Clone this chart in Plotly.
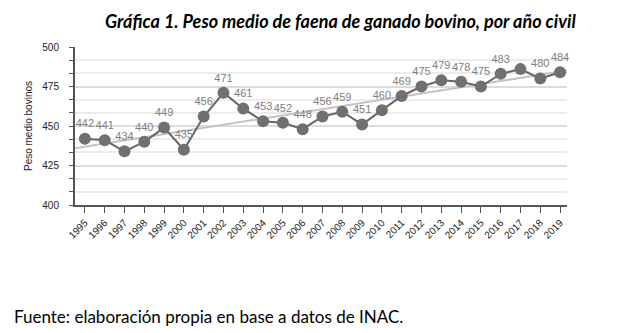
import numpy as np
import plotly.graph_objects as go

years = list(range(1995, 2020))
values = [442, 441, 434, 440, 449, 435, 456, 471, 461, 453, 452, 448, 456,
          459, 451, 460, 469, 475, 479, 478, 475, 483, 486, 480, 484]
labels = [str(v) for v in values]
labels[years.index(2017)] = ""
y_ticks = [400, 425, 450, 475, 500]

title = "Gráfica 1. Peso medio de faena de ganado bovino, por año civil"
source = "Fuente: elaboración propia en base a datos de INAC."

coef = np.polyfit(years, values, 1)
tx = np.array([1994.5, 2019.35])
ty = np.polyval(coef, tx)

fig = go.Figure()
fig.add_trace(go.Scatter(x=tx, y=ty, mode="lines",
                         line=dict(color="#c4c4c4", width=2),
                         hoverinfo="skip", showlegend=False))
fig.add_trace(go.Scatter(x=years, y=values, mode="lines+markers+text",
                         text=labels, textposition="top center",
                         textfont=dict(family="Arial", size=11, color="#808080"),
                         line=dict(color="#666666", width=2),
                         marker=dict(color="#707070", size=12),
                         cliponaxis=False,
                         showlegend=False))

L, R, T, B = 75, 71, 47, 128
W, H = 638, 333
fig.update_layout(
    width=W, height=H,
    margin=dict(l=L, r=R, t=T, b=B),
    paper_bgcolor="white", plot_bgcolor="white",
    font=dict(family="Arial", color="#222222"),
    annotations=[
        dict(text="<b><i>" + title + "</i></b>",
             x=(340 - L) / (W - L - R), y=1 - (21 - T) / (H - T - B),
             xref="paper", yref="paper", xanchor="center", yanchor="middle",
             showarrow=False, font=dict(family="Lato", size=18, color="black")),
        dict(text=source,
             x=(12 - L) / (W - L - R), y=1 - (316 - T) / (H - T - B),
             xref="paper", yref="paper", xanchor="left", yanchor="middle",
             showarrow=False, font=dict(family="Lato", size=17, color="black")),
    ],
)

fig.update_xaxes(range=[1994.5, 2019.35], tickmode="array", tickvals=years,
                 ticktext=[str(y) for y in years], tickangle=-45,
                 tickfont=dict(size=10, color="#222222"),
                 showline=True, linecolor="#555555", linewidth=2,
                 ticks="outside", ticklen=6, tickcolor="#555555",
                 showgrid=False, zeroline=False)
fig.update_yaxes(range=[400, 500], tickvals=y_ticks,
                 tickfont=dict(size=10, color="#222222"),
                 ticklabelstandoff=12,
                 showline=True, linecolor="#555555", linewidth=2,
                 showgrid=True, gridcolor="#dcdcdc", gridwidth=1.5,
                 minor=dict(dtick=25 / 3, tick0=400, showgrid=True, gridcolor="#ececec",
                            ticks="outside", ticklen=4, tickcolor="#555555"),
                 title=dict(text="Peso medio bovinos", font=dict(size=10, color="#222222"),
                            standoff=8),
                 zeroline=False)

fig.write_html("out.html")
